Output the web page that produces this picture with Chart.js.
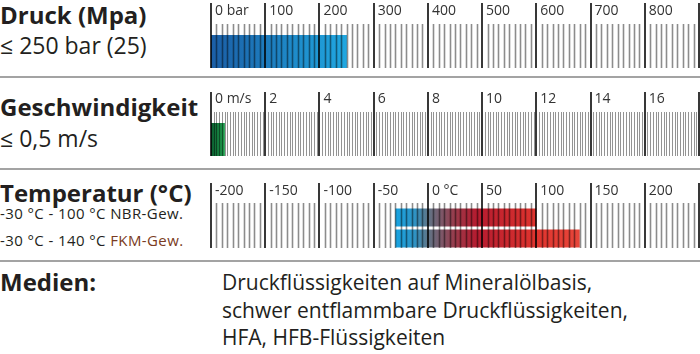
<!DOCTYPE html>
<html>
<head>
<meta charset="utf-8">
<script src="https://cdn.jsdelivr.net/npm/chart.js@4.4.0/dist/chart.umd.min.js"></script>
<style>
  body { margin: 0; width: 700px; height: 354px; position: relative; background: #fff; overflow: hidden;
         font-family: "Open Sans", sans-serif; color: #231f20; }
  .t { position: absolute; left: 0; white-space: nowrap; }
  .h { font-weight: bold; font-size: 24px; line-height: 28px; }
  .s { font-size: 23px; line-height: 28px; }
  .m { font-size: 15px; line-height: 20px; letter-spacing: 0.4px; }
  .fkm { color: #7a3b22; }
  .sep { position: absolute; left: 0; width: 700px; height: 2px; background: #a3a3a3; }
  canvas { position: absolute; left: 200px; }
  .medien { position: absolute; left: 222px; top: 269px; font-size: 21px; line-height: 27.5px; white-space: nowrap; }
</style>
</head>
<body>

<div class="t h" style="top:1px">Druck (Mpa)</div>
<div class="t s" style="top:31px">≤ 250 bar (25)</div>
<div class="sep" style="top:76px"></div>

<div class="t h" style="top:93px">Geschwindigkeit</div>
<div class="t s" style="top:124px">≤ 0,5 m/s</div>
<div class="sep" style="top:168px"></div>

<div class="t h" style="top:179px">Temperatur (°C)</div>
<div class="t m" style="top:203px">-30 °C - 100 °C NBR-Gew.</div>
<div class="t m" style="top:230px">-30 °C - 140 °C <span class="fkm">FKM-Gew.</span></div>
<div class="sep" style="top:260px"></div>

<div class="t h" style="top:268px">Medien:</div>
<div class="medien">Druckflüssigkeiten auf Mineralölbasis,<br>schwer entflammbare Druckflüssigkeiten,<br>HFA, HFB-Flüssigkeiten</div>

<canvas id="druck" width="500" height="76" style="top:0px"></canvas>
<canvas id="speed" width="500" height="90" style="top:78px"></canvas>
<canvas id="temp" width="500" height="90" style="top:170px"></canvas>

<script>
// pressure, bar
const pressureCategories = ['Druck'];
const pressureRanges = [[0, 250]];
const pressureTickLabels = ['0 bar', '100', '200', '300', '400', '500', '600', '700', '800', ''];

// speed, m/s
const speedCategories = ['Geschwindigkeit'];
const speedRanges = [[0, 0.5]];
const speedTickLabels = ['0 m/s', '2', '4', '6', '8', '10', '12', '14', '16', ''];

// temperature, °C
const tempCategories = ['NBR', 'FKM'];
const tempRanges = [[-30, 100], [-30, 140]];
const tempTickLabels = ['-200', '-150', '-100', '-50', '0 °C', '50', '100', '150', '200', ''];

// draws the ruler ticks on top of the bars, using the x scale
const rulerPlugin = {
  id: 'ruler',
  afterDatasetsDraw(chart, args, opts) {
    const ctx = chart.ctx;
    const x = chart.scales.x;
    const steps = Math.round((x.max - x.min) / opts.minorStep);
    const every = Math.round(opts.majorStep / opts.minorStep);
    ctx.save();
    for (let i = 0; i <= steps; i++) {
      const v = x.min + i * opts.minorStep;
      const px = Math.round(x.getPixelForValue(v));
      const major = i % every === 0;
      ctx.beginPath();
      if (major) {
        ctx.strokeStyle = 'rgba(0,0,0,0.78)';
        ctx.lineWidth = 2;
        ctx.moveTo(px, opts.majorTop);
        ctx.lineTo(px, opts.bottom);
      } else {
        ctx.strokeStyle = opts.minorColor;
        ctx.lineWidth = opts.minorWidth;
        ctx.moveTo(px + 0.5, opts.minorTop);
        ctx.lineTo(px + 0.5, opts.bottom);
      }
      ctx.stroke();
    }
    ctx.fillStyle = '#333';
    ctx.font = '14px "Open Sans"';
    ctx.textBaseline = 'alphabetic';
    opts.labels.forEach((lbl, k) => {
      const px = x.getPixelForValue(x.min + k * opts.majorStep);
      ctx.fillText(lbl, px + 4, opts.labelY);
    });
    ctx.restore();
  }
};

function gradientFor(context, stops) {
  const chart = context.chart;
  const x = chart.scales.x;
  if (!chart.chartArea || !x) return stops[0][1];
  const v0 = stops[0][0], v1 = stops[stops.length - 1][0];
  const g = chart.ctx.createLinearGradient(x.getPixelForValue(v0), 0, x.getPixelForValue(v1), 0);
  stops.forEach(s => g.addColorStop((s[0] - v0) / (v1 - v0), s[1]));
  return g;
}

function makeRuler(id, labels, ranges, cfg) {
  return new Chart(document.getElementById(id), {
    type: 'bar',
    data: {
      labels: labels,
      datasets: [{
        data: ranges,
        backgroundColor: c => gradientFor(c, cfg.stops),
        borderWidth: 0,
        borderSkipped: false,
        barPercentage: cfg.barPct,
        categoryPercentage: 1
      }]
    },
    options: {
      indexAxis: 'y',
      responsive: false,
      animation: false,
      events: [],
      layout: { padding: { left: 11, right: 1, top: cfg.padTop, bottom: cfg.padBottom } },
      scales: {
        x: { type: 'linear', min: cfg.min, max: cfg.max, display: false },
        y: { display: false }
      },
      plugins: {
        legend: { display: false },
        tooltip: { enabled: false },
        ruler: cfg.ruler
      }
    },
    plugins: [rulerPlugin]
  });
}

makeRuler('druck', pressureCategories, pressureRanges, {
  min: 0, max: 900, padTop: 35, padBottom: 8, barPct: 1,
  stops: [[0, '#1b5ea6'], [250, '#20a7e0']],
  ruler: { minorStep: 10, majorStep: 100, majorTop: 3, minorTop: 24, bottom: 68,
           minorWidth: 1.6, minorColor: 'rgba(0,0,0,0.45)', labelY: 15, labels: pressureTickLabels }
});

makeRuler('speed', speedCategories, speedRanges, {
  min: 0, max: 18, padTop: 45, padBottom: 12, barPct: 1,
  stops: [[0, '#0a5c2f'], [0.5, '#1f9a4c']],
  ruler: { minorStep: 0.1, majorStep: 2, majorTop: 14, minorTop: 34, bottom: 78,
           minorWidth: 1, minorColor: 'rgba(0,0,0,0.42)', labelY: 25, labels: speedTickLabels }
});

makeRuler('temp', tempCategories, tempRanges, {
  min: -200, max: 250, padTop: 37, padBottom: 11, barPct: 0.86,
  stops: [[-30, '#17a4e2'], [-12, '#2f93c4'], [0, '#5f7587'], [25, '#9a3a4a'], [45, '#b51b2f'], [100, '#e0342e'], [140, '#e8463a']],
  ruler: { minorStep: 5, majorStep: 50, majorTop: 13, minorTop: 33, bottom: 78,
           minorWidth: 1.6, minorColor: 'rgba(0,0,0,0.45)', labelY: 25, labels: tempTickLabels }
});
</script>
</body>
</html>
